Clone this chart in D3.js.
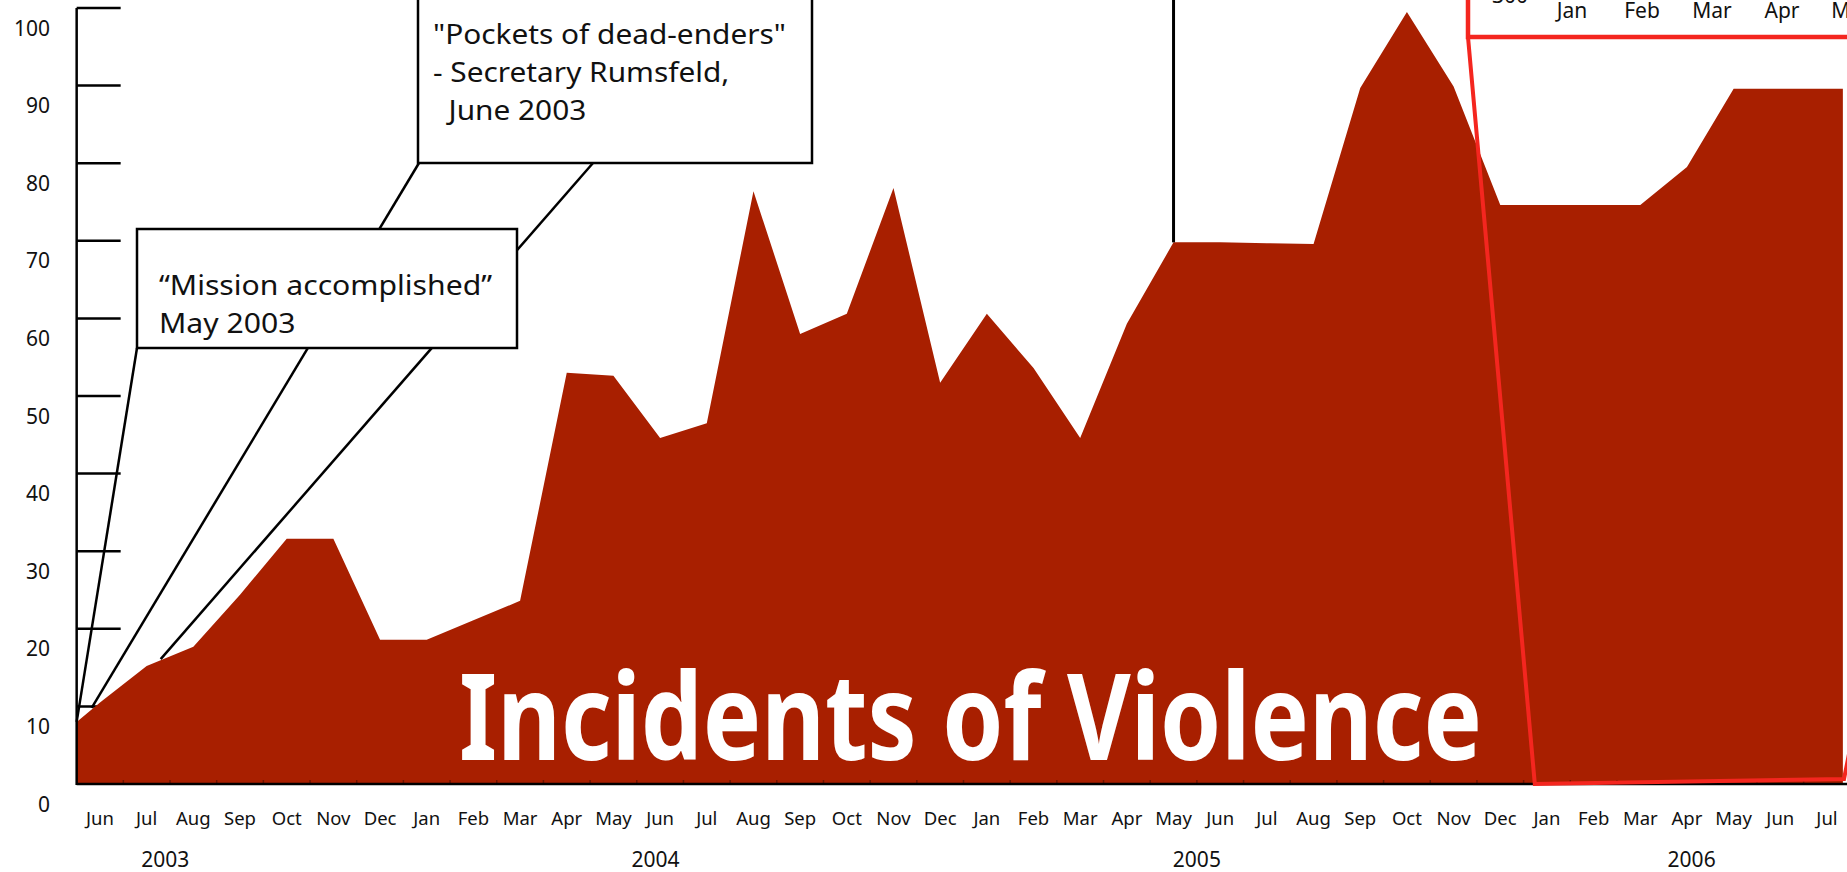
<!DOCTYPE html>
<html>
<head>
<meta charset="utf-8">
<script src="https://cdn.jsdelivr.net/npm/d3@7"></script>
<style>
  html, body { margin: 0; padding: 0; background: #fff; overflow: hidden; }
  svg { display: block; }
  text { font-family: "Noto Sans", "Open Sans", sans-serif; fill: #111; }
</style>
</head>
<body>
<svg id="chart" width="1847" height="872"></svg>
<script>
// ---------- data ----------
const months = ["Jun","Jul","Aug","Sep","Oct","Nov","Dec",
  "Jan","Feb","Mar","Apr","May","Jun","Jul","Aug","Sep","Oct","Nov","Dec",
  "Jan","Feb","Mar","Apr","May","Jun","Jul","Aug","Sep","Oct","Nov","Dec",
  "Jan","Feb","Mar","Apr","May","Jun","Jul"];
const incidents = [10.5, 15.2, 17.7, 24.4, 31.6, 31.6, 18.6,
  18.6, 21.1, 23.6, 53.0, 52.6, 44.6, 46.5, 76.4, 58.0, 60.6, 76.8, 51.7,
  60.6, 53.6, 44.6, 59.3, 69.8, 69.8, 69.7, 69.6, 89.7, 99.5, 89.9, 74.6,
  74.6, 74.6, 74.6, 79.5, 89.6, 89.6, 89.6];
const startValue = 8.0;          // value where the series meets the y axis (mid-May 2003)
const years = ["2003", "2004", "2005", "2006"];
const yearAt = [1.4, 11.9, 23.5, 34.1];   // month index under each year label
const yTicks = [0, 10, 20, 30, 40, 50, 60, 70, 80, 90, 100];
const insetMonths = ["Jan", "Feb", "Mar", "Apr", "May"];
const insetTopLabel = "300";
const title = "Incidents of Violence";
const missionLines = ["\u201CMission accomplished\u201D", "May 2003"];
const pocketsLines = ["\"Pockets of dead-enders\"", "- Secretary Rumsfeld,", "  June 2003"];

// ---------- scales ----------
const svg = d3.select("#chart");
const x = d3.scaleLinear().domain([0, months.length - 1]).range([100, 1827]);
const y = d3.scaleLinear().domain([0, 100]).range([784, 8]);
const axisX = x(-0.5);

const pts = [{i: -0.5, v: startValue}]
  .concat(incidents.map((v, i) => ({i, v})))
  .concat([{i: months.length - 1 + 0.34, v: incidents[incidents.length - 1]}]);

const AREA = "#a81f00";
const RED = "#f4261f";

// ---------- y tick marks ----------
svg.append("g").selectAll("line").data(yTicks.filter(d => d > 0)).join("line")
  .attr("x1", axisX).attr("x2", axisX + 44)
  .attr("y1", d => y(d)).attr("y2", d => y(d))
  .attr("stroke", "#000").attr("stroke-width", 2.5);

// ---------- annotation: Pockets of dead-enders ----------
const pockets = { left: 418, right: 812, bottom: 163 };
svg.append("line").attr("x1", pockets.left + 1).attr("y1", pockets.bottom)
  .attr("x2", x(-0.5) + 15).attr("y2", y(9.8)).attr("stroke", "#000").attr("stroke-width", 2.5);
svg.append("line").attr("x1", 593).attr("y1", pockets.bottom)
  .attr("x2", x(1.3)).attr("y2", y(16.1)).attr("stroke", "#000").attr("stroke-width", 2.5);
svg.append("rect").attr("x", pockets.left).attr("y", -10)
  .attr("width", pockets.right - pockets.left).attr("height", pockets.bottom + 10)
  .attr("fill", "#fff").attr("stroke", "#000").attr("stroke-width", 2.5);
const pText = svg.append("g");
pocketsLines.forEach((t, k) => {
  pText.append("text").attr("x", 433).attr("y", 44 + k * 38)
    .attr("font-size", 28).attr("xml:space", "preserve").text(t);
});

// ---------- annotation: Mission accomplished ----------
const mission = { left: 137, right: 517, top: 229, bottom: 348 };
svg.append("rect").attr("x", mission.left).attr("y", mission.top)
  .attr("width", mission.right - mission.left).attr("height", mission.bottom - mission.top)
  .attr("fill", "#fff").attr("stroke", "#000").attr("stroke-width", 2.5);
const mText = svg.append("g");
missionLines.forEach((t, k) => {
  mText.append("text").attr("x", 159).attr("y", 295 + k * 38)
    .attr("font-size", 28).text(t);
});
svg.append("line").attr("x1", mission.left).attr("y1", mission.bottom)
  .attr("x2", axisX).attr("y2", y(startValue)).attr("stroke", "#000").attr("stroke-width", 2.5);

// fit annotation widths to the reference
function fit(g, firstWidth) {
  const nodes = g.selectAll("text").nodes();
  const f = firstWidth / nodes[0].getComputedTextLength();
  nodes.forEach(n => {
    const w = n.getComputedTextLength();
    d3.select(n).attr("textLength", w * f).attr("lengthAdjust", "spacingAndGlyphs");
  });
}
fit(mText, 333);
fit(pText, 353);

// ---------- area ----------
const area = d3.area().x(d => x(d.i)).y0(y(0)).y1(d => y(d.v)).curve(d3.curveLinear);
svg.append("path").datum(pts).attr("d", area).attr("fill", AREA);

// ---------- axes lines ----------
svg.append("line").attr("x1", axisX).attr("x2", axisX).attr("y1", y(100)).attr("y2", y(0) + 1)
  .attr("stroke", "#000").attr("stroke-width", 2.5);
svg.append("line").attr("x1", axisX).attr("x2", 1847).attr("y1", y(0)).attr("y2", y(0))
  .attr("stroke", "#000").attr("stroke-width", 2.5);
svg.append("g").selectAll("line").data(d3.range(0, months.length - 1)).join("line")
  .attr("x1", d => x(d + 0.5)).attr("x2", d => x(d + 0.5))
  .attr("y1", y(0)).attr("y2", y(0) - 4)
  .attr("stroke", "#000").attr("stroke-opacity", 0.35).attr("stroke-width", 1.5);

// ---------- title ----------
svg.append("text").attr("x", 459).attr("y", 760)
  .attr("font-family", "'Liberation Sans Narrow', 'DejaVu Sans Condensed', 'Arial Narrow', sans-serif")
  .attr("font-weight", "bold").attr("font-size", 121)
  .attr("textLength", 1023).attr("lengthAdjust", "spacingAndGlyphs")
  .style("fill", "#fff").text(title);

// ---------- leader for May 2005 ----------
svg.append("line").attr("x1", x(23)).attr("x2", x(23)).attr("y1", 0).attr("y2", y(incidents[23]))
  .attr("stroke", "#000").attr("stroke-width", 3);

// ---------- red inset callout ----------
const insetLeft = 1468, insetBottom = 37;
svg.append("path")
  .attr("d", `M${insetLeft},-5 V${insetBottom} H1850`)
  .attr("fill", "none").attr("stroke", RED).attr("stroke-width", 4.5);
svg.append("path")
  .attr("d", `M${insetLeft},${insetBottom} L${x(30.74)},${y(0)} L1844,${y(0) - 5} L1851,${y(0) - 40}`)
  .attr("fill", "none").attr("stroke", RED).attr("stroke-width", 4).attr("stroke-linejoin", "miter");
const ix = d3.scaleLinear().domain([0, insetMonths.length - 1]).range([1572, 1852]);
svg.append("g").selectAll("text").data(insetMonths).join("text")
  .attr("x", (d, i) => ix(i)).attr("y", 18).attr("text-anchor", "middle")
  .attr("font-size", 21).text(d => d);
svg.append("text").attr("x", 1528).attr("y", 3).attr("text-anchor", "end")
  .attr("font-size", 21).text(insetTopLabel);

// ---------- labels ----------
svg.append("g").selectAll("text").data(yTicks).join("text")
  .attr("x", 50).attr("y", d => y(d) + 27.5).attr("text-anchor", "end")
  .attr("font-size", 21).text(d => d);
svg.append("g").selectAll("text").data(months).join("text")
  .attr("x", (d, i) => x(i)).attr("y", 825).attr("text-anchor", "middle")
  .attr("font-size", 18.5).text(d => d);
svg.append("g").selectAll("text").data(years).join("text")
  .attr("x", (d, i) => x(yearAt[i])).attr("y", 867).attr("text-anchor", "middle")
  .attr("font-size", 21).text(d => d);
</script>
</body>
</html>
